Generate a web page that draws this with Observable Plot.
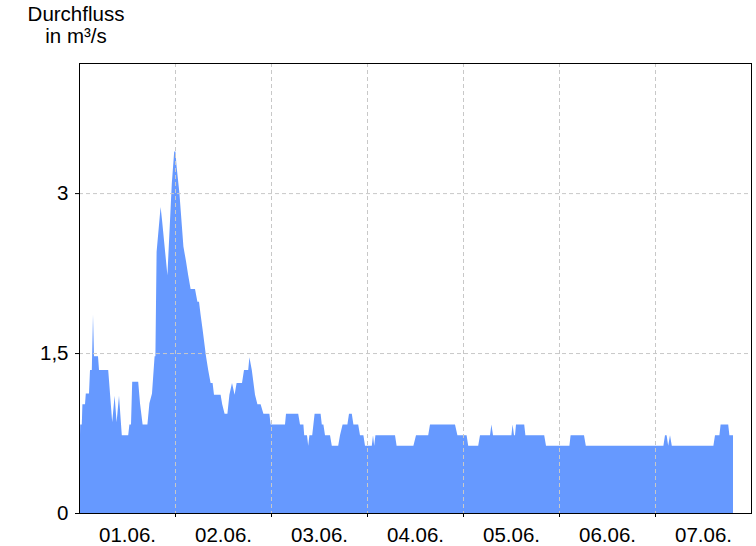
<!DOCTYPE html>
<html>
<head>
<meta charset="utf-8">
<script src="https://cdn.jsdelivr.net/npm/d3@7"></script>
<script src="https://cdn.jsdelivr.net/npm/@observablehq/plot@0.6"></script>
<style>
  html, body { margin: 0; padding: 0; background: #fff; }
  #wrap { position: relative; width: 756px; height: 546px; font-family: "Liberation Sans", Arial, sans-serif; }
  #title { position: absolute; left: 0; top: 3px; width: 152px; text-align: center; font-size: 20.5px; line-height: 22px; color: #000; }
</style>
</head>
<body>
<div id="wrap">
  <div id="title">Durchfluss<br>in m³/s</div>
</div>
<script>
// Hours since 01.06. 00:00
const hours = [
  0, 0.25, 0.3, 0.7, 0.85, 1.5, 1.7, 2.5, 2.75, 3.2, 3.5, 3.75, 4.75, 5.0, 7.3, 8.3, 8.9, 9.4, 10.0, 10.7,
  12.3, 12.6, 13.0, 13.3, 14.8, 15.25, 15.9, 17.1, 17.6, 18.25, 18.9, 19.1, 19.4, 20.4, 20.75, 22.1,
  23.2, 23.8, 24.1, 24.4, 25.1, 25.6, 26.1, 26.75, 27.3, 27.9, 29.0, 29.6, 30.0, 30.4, 30.9, 31.75,
  32.3, 32.9, 33.4, 33.75, 35.4, 35.8, 36.4, 37.1, 37.6, 38.25, 38.9, 39.4, 40.75, 41.25, 42.3, 42.6,
  43.2, 44.0, 44.6, 45.4, 46.1, 47.6, 47.9,
  51.5, 51.75, 54.8, 55.25, 56.1, 56.3, 57.0, 57.3, 57.6, 58.3, 58.6, 58.9, 60.4, 60.7, 61.1, 61.5,
  62.75, 63.2, 64.8, 65.25, 65.9, 67.1, 67.5, 68.2, 68.6, 69.8, 70.25, 71.1, 71.5, 73.2, 73.5, 73.8,
  74.1, 79.0, 79.4, 83.6, 84.25, 87.3, 87.75, 94.0, 94.6, 96.9, 97.3, 99.8, 100.25, 102.75, 103.1,
  103.5, 108.1, 108.4, 108.75, 109.0, 109.25, 111.3, 111.6, 116.3, 116.75, 122.6, 122.9, 126.25,
  126.7, 146.1, 146.5, 146.9, 147.3, 147.75, 148.2, 158.6, 159.0, 160.1, 160.4, 162.3, 162.6, 163.5
];
// Discharge in m³/s
const flow = [
  0.73, 0.73, 0.83, 0.83, 1.02, 1.02, 1.12, 1.12, 1.34, 1.34, 1.86, 1.47, 1.47, 1.34, 1.34, 0.85, 1.1, 0.85, 1.1, 0.73,
  0.73, 0.83, 0.83, 1.23, 1.23, 1.03, 0.83, 0.83, 1.03, 1.12, 1.47, 1.47, 2.45, 2.87, 2.75, 2.23,
  3.09, 3.39, 3.39, 3.25, 3.0, 2.75, 2.5, 2.36, 2.23, 2.1, 2.1, 1.98, 1.98, 1.86, 1.72, 1.47,
  1.34, 1.22, 1.22, 1.11, 1.11, 1.02, 0.93, 0.93, 1.11, 1.22, 1.11, 1.22, 1.22, 1.34, 1.34, 1.46,
  1.34, 1.11, 1.02, 1.02, 0.93, 0.93, 0.83,
  0.83, 0.93, 0.93, 0.83, 0.83, 0.73, 0.73, 0.63, 0.73, 0.73, 0.83, 0.93, 0.93, 0.83, 0.83, 0.73,
  0.73, 0.63, 0.63, 0.73, 0.83, 0.83, 0.93, 0.93, 0.83, 0.83, 0.73, 0.73, 0.63, 0.63, 0.73, 0.63,
  0.73, 0.73, 0.63, 0.63, 0.73, 0.73, 0.83, 0.83, 0.73, 0.73, 0.63, 0.63, 0.73, 0.73, 0.83,
  0.73, 0.73, 0.83, 0.73, 0.73, 0.83, 0.83, 0.73, 0.73, 0.63, 0.63, 0.73, 0.73,
  0.63, 0.63, 0.73, 0.73, 0.63, 0.73, 0.63, 0.63, 0.73, 0.73, 0.83, 0.83, 0.73, 0.73
];
const yTicks = [0, 1.5, 3];
const dayLabels = ["01.06.", "02.06.", "03.06.", "04.06.", "05.06.", "06.06.", "07.06."];

const t0 = Date.UTC(2024, 5, 1);
const H = 3600e3;
const data = hours.map((h, i) => ({t: new Date(t0 + h * H), q: flow[i]}));
const noons = dayLabels.map((_, i) => new Date(t0 + (i * 24 + 12) * H));
const bounds = d3.range(1, 7).map(i => new Date(t0 + i * 24 * H));
const labelOf = new Map(noons.map((d, i) => [+d, dayLabels[i]]));

const grid = "#c8c8c8";
const chart = Plot.plot({
  width: 756,
  height: 546,
  marginLeft: 79,
  marginRight: 5,
  marginTop: 63,
  marginBottom: 33,
  style: {fontFamily: "'Liberation Sans', Arial, sans-serif", fontSize: "20.5px", color: "#000", background: "#fff"},
  x: {type: "utc", domain: [new Date(t0), new Date(t0 + 7 * 24 * H)]},
  y: {domain: [0, 4.22]},
  marks: [
    Plot.areaY(data, {x: "t", y: "q", fill: "#6699ff", curve: "linear"}),
    Plot.ruleX(bounds, {stroke: grid, strokeDasharray: "4,3"}),
    Plot.ruleY([1.5, 3], {stroke: grid, strokeDasharray: "4,3"}),
    Plot.frame({stroke: "#000"}),
    Plot.axisY({ticks: yTicks, tickSize: 4, tickPadding: 7, label: null,
      tickFormat: d => String(d).replace(".", ","), fontSize: 20.5}),
    Plot.axisX({ticks: noons, tickSize: 0, tickPadding: 14, label: null,
      tickFormat: d => labelOf.get(+d), fontSize: 20.5}),
    Plot.axisX({ticks: bounds, tickSize: 4, label: null, tickFormat: () => ""})
  ]
});
document.getElementById("wrap").prepend(chart);
</script>
</body>
</html>
